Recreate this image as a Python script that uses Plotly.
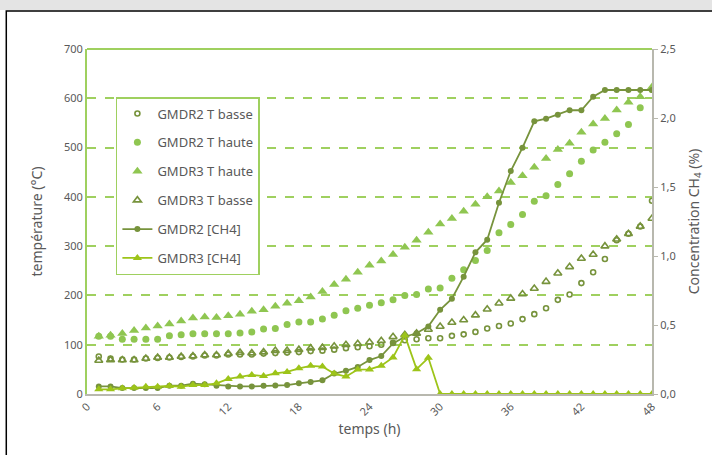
import plotly.graph_objects as go

hours = list(range(1, 49))

gmdr2_t_basse = [76, 72, 70, 70, 72, 73, 74, 75, 76, 78,
                 78, 80, 80, 80, 82, 83, 84, 85, 87, 88,
                 90, 93, 95, 97, 100, 104, 109, 111, 113, 113,
                 118, 121, 126, 133, 138, 143, 152, 162, 174, 191,
                 202, 225, 247, 274, 312, 325, 340, 392]
gmdr2_t_haute = [117, 117, 111, 111, 111, 111, 118, 120, 122, 122,
                 122, 122, 124, 126, 132, 133, 141, 146, 146, 152,
                 160, 169, 174, 180, 185, 191, 200, 202, 213, 215,
                 235, 252, 271, 291, 327, 344, 364, 391, 402, 425,
                 447, 472, 495, 511, 528, 547, 581, 618]
gmdr3_t_haute = [117, 119, 123, 129, 134, 138, 142, 148, 154, 156,
                 155, 159, 162, 168, 171, 178, 184, 189, 197, 208,
                 222, 233, 247, 261, 270, 283, 298, 312, 328, 345,
                 356, 371, 385, 400, 412, 429, 443, 460, 478, 496,
                 509, 531, 548, 559, 576, 592, 603, 623]
gmdr3_t_basse = [68, 69, 69, 69, 72, 74, 74, 76, 77, 79,
                 79, 82, 84, 83, 85, 88, 88, 90, 93, 94,
                 97, 100, 102, 105, 108, 116, 120, 123, 131, 137,
                 145, 150, 160, 172, 184, 194, 203, 214, 228, 245,
                 258, 275, 283, 300, 314, 325, 340, 356]
gmdr2_ch4 = [0.055, 0.055, 0.043, 0.043, 0.043, 0.043, 0.06, 0.06, 0.075, 0.07,
             0.06, 0.055, 0.055, 0.055, 0.06, 0.062, 0.065, 0.077, 0.087, 0.099,
             0.148, 0.168, 0.196, 0.246, 0.275, 0.367, 0.415, 0.44, 0.49, 0.61,
             0.69, 0.85, 1.027, 1.118, 1.386, 1.616, 1.785, 1.976, 1.995, 2.024,
             2.056, 2.056, 2.154, 2.203, 2.203, 2.203, 2.203, 2.203]
gmdr3_ch4 = [0.034, 0.034, 0.041, 0.046, 0.053, 0.053, 0.058, 0.053, 0.065, 0.065,
             0.077, 0.109, 0.126, 0.138, 0.13, 0.15, 0.16, 0.186, 0.204, 0.199,
             0.148, 0.126, 0.177, 0.178, 0.205, 0.265, 0.425, 0.18, 0.262, 0,
             0, 0, 0, 0, 0, 0, 0, 0, 0, 0,
             0, 0, 0, 0, 0, 0, 0, 0]

x_ticks = [0, 6, 12, 18, 24, 30, 36, 42, 48]
y_ticks = [0, 100, 200, 300, 400, 500, 600, 700]
y2_ticks = [0, 0.5, 1.0, 1.5, 2.0, 2.5]
y2_ticktext = ["0,0", "0,5", "1,0", "1,5", "2,0", "2,5"]

OLIVE = "#77933c"
LGREEN = "#8fc651"
YGREEN = "#9dc419"
GRID = "#9fd05f"
AXGRAY = "#b8b8ae"
TXT = "#595959"
FONT = "Noto Sans"

fig = go.Figure()
fig.add_trace(go.Scatter(x=hours, y=gmdr2_t_basse, mode="markers", name="GMDR2 T basse",
                         legendgroup="a",
                         marker=dict(symbol="circle-open", size=5, color=OLIVE, line=dict(width=1.6, color=OLIVE))))
fig.add_trace(go.Scatter(x=hours, y=gmdr2_t_haute, mode="markers", name="GMDR2 T haute",
                         legendgroup="b",
                         marker=dict(symbol="circle", size=7, color=LGREEN)))
fig.add_trace(go.Scatter(x=hours, y=gmdr3_t_haute, mode="markers", name="GMDR3 T haute",
                         legendgroup="c",
                         marker=dict(symbol="triangle-up", size=9, color=LGREEN)))
fig.add_trace(go.Scatter(x=hours, y=gmdr3_t_basse, mode="markers", name="GMDR3 T basse",
                         legendgroup="d",
                         marker=dict(symbol="triangle-up-open", size=7, color=OLIVE, line=dict(width=1.6, color=OLIVE))))
fig.add_trace(go.Scatter(x=hours, y=gmdr2_ch4, mode="lines+markers", name="GMDR2 [CH4]",
                         legendgroup="e", yaxis="y2",
                         line=dict(color=OLIVE, width=1.8),
                         marker=dict(symbol="circle", size=6, color=OLIVE)))
fig.add_trace(go.Scatter(x=hours, y=gmdr3_ch4, mode="lines+markers", name="GMDR3 [CH4]",
                         legendgroup="f", yaxis="y2",
                         line=dict(color=YGREEN, width=1.8),
                         marker=dict(symbol="triangle-up", size=8, color=YGREEN)))

L, R, T, B = 87, 58, 49, 61
W, H = 712, 455
pw, ph = W - L - R, H - T - B

def px_x(p):
    return (p - L) / pw

def px_y(p):
    return (H - B - p) / ph

fig.update_layout(
    width=W, height=H,
    margin=dict(l=L, r=R, t=T, b=B),
    paper_bgcolor="white", plot_bgcolor="white",
    font=dict(family=FONT, color=TXT, size=11),
    showlegend=True,
    legend=dict(x=px_x(116), y=px_y(97), xanchor="left", yanchor="top",
                bordercolor=GRID, borderwidth=1.5, bgcolor="white",
                font=dict(family=FONT, size=13, color=TXT),
                tracegroupgap=9, traceorder="grouped"),
    xaxis=dict(range=[0, 48], tickvals=x_ticks, tickangle=-45, showgrid=False,
               showline=True, linecolor=AXGRAY, linewidth=2, zeroline=False,
               ticks="", tickfont=dict(size=11, color=TXT),
               title=dict(text="temps (h)", font=dict(size=14, color=TXT), standoff=6)),
    yaxis=dict(range=[0, 700], tickvals=y_ticks, showgrid=True, gridcolor=GRID,
               griddash="dash", gridwidth=1.5, zeroline=False,
               showline=True, linecolor=GRID, linewidth=2, ticks="",
               tickfont=dict(size=11, color=TXT),
               title=dict(text="température (°C)", font=dict(size=14, color=TXT), standoff=18)),
    yaxis2=dict(range=[0, 2.5], overlaying="y", side="right", tickvals=y2_ticks,
                ticktext=y2_ticktext, showgrid=False, zeroline=False,
                showline=True, linecolor=AXGRAY, linewidth=2,
                ticks="outside", ticklen=4, tickcolor=AXGRAY,
                tickfont=dict(size=11, color=TXT),
                title=dict(text="Concentration CH<sub>4</sub> (%)", font=dict(size=14, color=TXT), standoff=14)),
    shapes=[
        dict(type="rect", xref="paper", yref="paper", x0=px_x(-20), x1=px_x(740),
             y0=px_y(10), y1=px_y(-20), fillcolor="#e4e4e4", line=dict(width=0), layer="below"),
        dict(type="rect", xref="paper", yref="paper", x0=px_x(6), x1=px_x(740),
             y0=px_y(480), y1=px_y(11), fillcolor="rgba(0,0,0,0)",
             line=dict(color="black", width=1.5), layer="below"),
        dict(type="line", xref="paper", yref="paper", x0=0, x1=1, y0=1, y1=1,
             line=dict(color=GRID, width=2), layer="above"),
    ],
)

fig.write_html("out.html", config={"displayModeBar": False},
               post_script="document.body.style.margin='0';document.body.style.overflow='hidden';")
